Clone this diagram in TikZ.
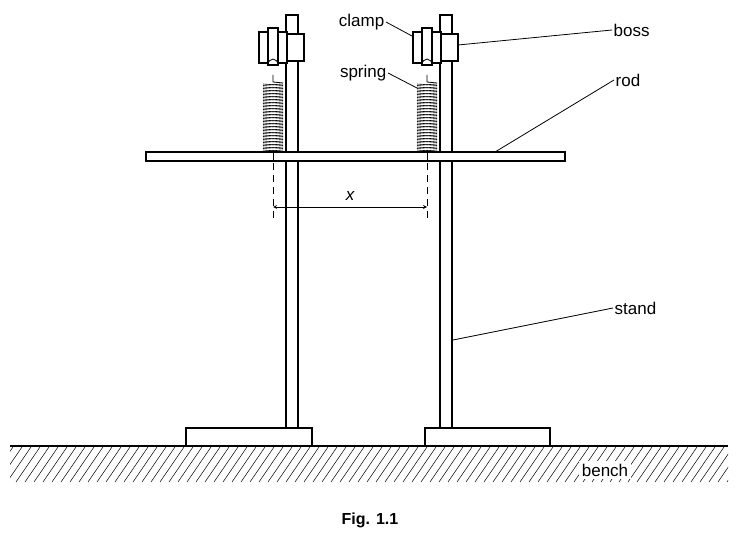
\documentclass[tikz,border=0pt]{standalone}
\usepackage{fontspec}
\setmainfont{Liberation Sans}
\begin{document}
\begin{tikzpicture}[x=1pt,y=-1pt,line width=1.4pt,
  lbl/.style={font=\fontsize{17}{20}\selectfont,inner sep=1pt},
  thin/.style={line width=0.8pt}]
\useasboundingbox (0,0) rectangle (739,540);
% hatching
\begin{scope}
\clip (10,447) rectangle (728,482);
\foreach \x in {-20,-11,...,740} \draw[line width=0.5pt] (\x,482) -- (\x+24,447);
\end{scope}
\node[lbl,fill=white,inner sep=3pt] (bench) at (605,470) {bench};
\draw (10,446) -- (728,446);
% stands
\foreach \d/\n in {0/L,154/R}{
  \draw[fill=white] (186+\d+0.5*\d/154*-\d*0,428) coordinate (b\n) ;
}
\draw (186,428) rectangle (312,446);
\draw (425,428) rectangle (550,446);
\draw[fill=white] (286,15) rectangle (298,428);
\draw[fill=white] (440,15) rectangle (452,428);
% rod
\draw[fill=white] (146,152) rectangle (565,161);
\foreach \d in {0,154}{
 \begin{scope}[xshift=\d]
  \draw[fill=white] (287,34) rectangle (304,61);
  \draw[fill=white] (259,32) rectangle (287,63);
  \draw[fill=white] (268,28) rectangle (278,65);
  \draw[thin] (268,65) arc (180:360:5 and 6);
  \draw[thin] (273,75) -- (273,82) -- (283,83);
  \foreach \y in {84,87,...,150}{
    \draw[line width=0.6pt] (263,\y) -- (283,\y+1.5);
    \draw[line width=0.6pt] (263,\y+1.5) -- (283,\y);
  }
  \draw[line width=0.6pt] (273,150) -- (273,161);
  \draw[thin,dashed,dash pattern=on 7pt off 5pt] (273,163) -- (273,222);
 \end{scope}}
\coordinate (xa) at (273,207); \coordinate (xb) at (427,207);
\draw[thin,<->,>=stealth] (xa) -- (xb);
\node[lbl,font=\fontsize{17}{20}\selectfont\itshape] (x) at (350,196) {x};
% labels
\node[lbl,anchor=east] (clamp) at (386,22) {clamp};
\draw[thin] (clamp.east) -- (412,36);
\node[lbl,anchor=east] (spring) at (388,73) {spring};
\draw[thin] (spring.east) -- (417,88);
\node[lbl,anchor=west] (boss) at (612,30) {boss};
\draw[thin] (boss.west) -- (458,45);
\node[lbl,anchor=west] (rod) at (614,80) {rod};
\draw[thin] (rod.west) -- (495,152);
\node[lbl,anchor=west] (stand) at (613,308) {stand};
\draw[thin] (stand.west) -- (453,340);
\node[lbl,font=\fontsize{16}{20}\selectfont\bfseries] (fig) at (370,520) {Fig. 1.1};
\end{tikzpicture}
\end{document}
